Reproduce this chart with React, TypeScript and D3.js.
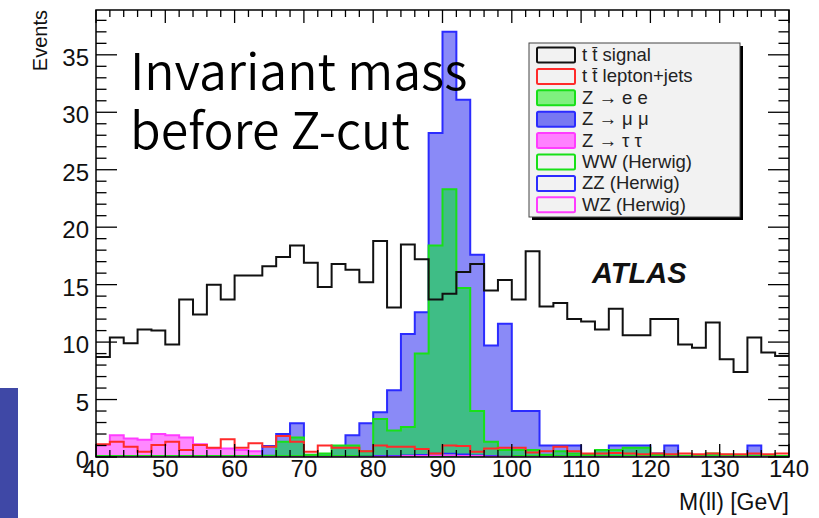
import React from "react";
import * as d3 from "d3";

// 2 GeV bins from 40 to 140 GeV
const binEdges: number[] = d3.range(40, 141, 2);

// t tbar signal (dilepton)
const ttSignal = [
  8.7, 10.4, 9.9, 11.1, 11.0, 9.8, 13.7, 12.4, 15.0, 13.7,
  15.8, 15.8, 16.6, 17.4, 18.4, 16.9, 14.8, 16.8, 16.3, 15.2,
  18.8, 13.0, 18.5, 17.2, 13.7, 14.2, 16.1, 16.8, 14.5, 15.4,
  13.7, 17.9, 13.1, 13.4, 12.0, 11.8, 11.1, 12.9, 10.6, 10.6,
  12.0, 12.0, 9.8, 9.5, 11.7, 8.5, 7.4, 10.4, 9.1, 8.8,
];

// t tbar lepton+jets background
const ttLeptonJets = [
  1.1, 1.33, 0.9, 0.46, 1.04, 1.33, 0.6, 1.04, 0.8, 1.54,
  0.8, 1.2, 0.9, 1.83, 1.33, 0.46, 1.0, 0.8, 0.8, 0.5,
  1.0, 0.9, 0.9, 0.7, 0.3, 1.0, 0.96, 0.46, 0.75, 0.8,
  0.8, 0.4, 0.5, 0.9, 0.5, 0.3, 0.3, 0.35, 0.3, 0.25,
  0.3, 0.25, 0.3, 0.25, 0.3, 0.25, 0.25, 0.3, 0.25, 0.3,
];

// Z -> e e
const zee = [
  0, 0, 0, 0, 0, 0, 0, 0, 0, 0,
  0, 0, 0.1, 1.33, 1.7, 0.2, 0.3, 1.0, 1.0, 0.5,
  3.3, 2.3, 2.6, 9.0, 18.4, 23.3, 14.7, 4.0, 1.33, 0.6,
  0.6, 0.6, 0.2, 0.5, 0.3, 0.2, 0.6, 0.6, 0.8, 0.8,
  0.2, 0.2, 0.1, 0.1, 0.3, 0.2, 0, 0.1, 0.1, 0,
];

// Z -> mu mu
const zmumu = [
  0, 0, 0, 0, 0, 0, 0, 0, 0, 0,
  0, 0, 0.96, 2.0, 2.93, 0, 0, 0, 1.9, 2.93,
  3.9, 5.8, 10.7, 12.6, 28.2, 37.0, 31.1, 17.6, 9.7, 11.6,
  4.0, 4.0, 1.0, 1.0, 1.0, 0, 0.2, 1.0, 1.0, 1.0,
  0.3, 1.0, 0, 0, 0, 0, 0, 1.0, 0, 0,
];

// Z -> tau tau
const ztautau = [
  1.04, 1.9, 1.6, 1.5, 2.0, 1.9, 1.7, 1.1, 0.75, 0.75,
  0.6, 0.5, 0.5, 0.3, 0.3, 0.2, 0.2, 0.2, 0.2, 0.2,
  0.2, 0.2, 0.2, 0.1, 0.1, 0, 0, 0, 0, 0,
  0, 0, 0, 0, 0, 0, 0, 0, 0, 0,
  0, 0, 0, 0, 0, 0, 0, 0, 0, 0,
];

// Diboson samples (Herwig)
const ww = [
  0.1, 0.1, 0.1, 0.1, 0.1, 0.1, 0.1, 0.1, 0.1, 0.1,
  0.1, 0.1, 0.1, 0.1, 0.1, 0.1, 0.1, 0.1, 0.1, 0.1,
  0.1, 0.1, 0.1, 0.1, 0.1, 0.1, 0.1, 0.1, 0.1, 0.1,
  0.1, 0.1, 0.1, 0.1, 0.1, 0.1, 0.1, 0.1, 0.1, 0.1,
  0.1, 0.1, 0.1, 0.1, 0.1, 0.1, 0.1, 0.1, 0.1, 0.1,
];
const zz = [
  0, 0, 0, 0, 0, 0, 0, 0, 0, 0,
  0, 0, 0, 0, 0, 0, 0, 0, 0, 0.05,
  0.1, 0.1, 0.15, 0.2, 0.3, 0.3, 0.25, 0.15, 0.1, 0.05,
  0, 0, 0, 0, 0, 0, 0, 0, 0, 0,
  0, 0, 0, 0, 0, 0, 0, 0, 0, 0,
];
const wz = [
  0, 0, 0, 0, 0, 0, 0, 0, 0, 0,
  0, 0, 0, 0, 0, 0, 0, 0, 0, 0,
  0.05, 0.05, 0.1, 0.1, 0.15, 0.15, 0.1, 0.1, 0.05, 0.05,
  0, 0, 0, 0, 0, 0, 0, 0, 0, 0,
  0, 0, 0, 0, 0, 0, 0, 0, 0, 0,
];

const yTickLabels = [0, 5, 10, 15, 20, 25, 30, 35];
const xTickLabels = [40, 50, 60, 70, 80, 90, 100, 110, 120, 130, 140];

const legendLabels = [
  "t t\u0304 signal",
  "t t\u0304 lepton+jets",
  "Z \u2192 e e",
  "Z \u2192 \u03bc \u03bc",
  "Z \u2192 \u03c4 \u03c4",
  "WW (Herwig)",
  "ZZ (Herwig)",
  "WZ (Herwig)",
];

const W = 819;
const H = 518;
const frame = { left: 96, right: 789, top: 10, bottom: 457 };
const yMax = 38.9;

const COL = {
  black: "#111111",
  red: "#ff2a2a",
  green: "#18e018",
  greenFill: "#3fbd86",
  blue: "#2b2bff",
  blueFill: "#8a8af7",
  magenta: "#ff3cff",
  magentaFill: "#ff88ff",
};

const font = "'Liberation Sans', Arial, Helvetica, sans-serif";
const noteFont = "'Noto Sans CJK JP', 'Noto Sans', sans-serif";

export default function App() {
  const x = d3.scaleLinear().domain([40, 140]).range([frame.left, frame.right]);
  const y = d3.scaleLinear().domain([0, yMax]).range([frame.bottom, frame.top]);

  const steps = (vals: number[]): [number, number][] =>
    vals.flatMap((v, i) => [
      [binEdges[i], v] as [number, number],
      [binEdges[i + 1], v] as [number, number],
    ]);

  const line = d3
    .line<[number, number]>()
    .x((d) => x(d[0]))
    .y((d) => y(d[1]));
  const area = d3
    .area<[number, number]>()
    .x((d) => x(d[0]))
    .y0(y(0))
    .y1((d) => y(d[1]));

  const closedOutline = (vals: number[]) =>
    line([[40, 0], ...steps(vals), [140, 0]]) as string;
  const openOutline = (vals: number[]) => line(steps(vals)) as string;

  const filled = [
    { vals: ztautau, fill: COL.magentaFill, stroke: COL.magenta },
    { vals: zmumu, fill: COL.blueFill, stroke: COL.blue },
    { vals: zee, fill: COL.greenFill, stroke: COL.green },
  ];

  const yMinor = d3.range(0, 39, 1);
  const xMinor = d3.range(40, 141, 2);
  const yMajorLen = 21;
  const yMinorLen = 10.5;
  const xMajorLen = 13;
  const xMinorLen = 7;

  // legend geometry
  const lg = { x: 529, y: 43, w: 211, h: 174 };
  const rowH = 21.4;
  const rowY0 = 55;
  const swatches = [
    { fill: "#f2f2f2", stroke: COL.black },
    { fill: "#f2f2f2", stroke: COL.red },
    { fill: "#7ff07f", stroke: COL.green },
    { fill: "#7878f2", stroke: COL.blue },
    { fill: "#ff80ff", stroke: COL.magenta },
    { fill: "#f2f2f2", stroke: COL.green },
    { fill: "#f2f2f2", stroke: COL.blue },
    { fill: "#f2f2f2", stroke: COL.magenta },
  ];

  return (
    <div style={{ position: "absolute", left: 0, top: 0 }}>
      <svg width={W} height={H} viewBox={`0 0 ${W} ${H}`} style={{ display: "block", background: "#ffffff" }}>
        <defs>
          <clipPath id="frameClip">
            <rect x={frame.left} y={frame.top} width={frame.right - frame.left} height={frame.bottom - frame.top} />
          </clipPath>
        </defs>

        {/* side bar */}
        <rect x={0} y={388} width={18} height={H - 388} fill="#3f48a6" />

        <g clipPath="url(#frameClip)">
          {filled.map((h, i) => (
            <g key={i}>
              <path d={area(steps(h.vals)) as string} fill={h.fill} />
              <path d={closedOutline(h.vals)} fill="none" stroke={h.stroke} strokeWidth={2} />
            </g>
          ))}
          <path d={openOutline(ww)} fill="none" stroke={COL.green} strokeWidth={1.5} />
          <path d={openOutline(zz)} fill="none" stroke={COL.blue} strokeWidth={1.5} />
          <path d={openOutline(wz)} fill="none" stroke={COL.magenta} strokeWidth={1.5} />
          <path d={openOutline(ttLeptonJets)} fill="none" stroke={COL.red} strokeWidth={2} />
          <path d={openOutline(ttSignal)} fill="none" stroke={COL.black} strokeWidth={2} />
        </g>

        {/* frame */}
        <rect
          x={frame.left}
          y={frame.top}
          width={frame.right - frame.left}
          height={frame.bottom - frame.top}
          fill="none"
          stroke="#000"
          strokeWidth={1.5}
        />

        {/* y ticks, left and right */}
        {yMinor.map((v) => {
          const len = v % 5 === 0 ? yMajorLen : yMinorLen;
          return (
            <g key={`yt${v}`} stroke="#000" strokeWidth={1.3}>
              <line x1={frame.left} x2={frame.left + len} y1={y(v)} y2={y(v)} />
              <line x1={frame.right} x2={frame.right - len} y1={y(v)} y2={y(v)} />
            </g>
          );
        })}
        {/* x ticks, bottom and top */}
        {xMinor.map((v) => {
          const len = v % 10 === 0 ? xMajorLen : xMinorLen;
          return (
            <g key={`xt${v}`} stroke="#000" strokeWidth={1.3}>
              <line x1={x(v)} x2={x(v)} y1={frame.bottom} y2={frame.bottom - len} />
              <line x1={x(v)} x2={x(v)} y1={frame.top} y2={frame.top + len} />
            </g>
          );
        })}

        {/* tick labels */}
        {yTickLabels.map((v) => (
          <text key={`yl${v}`} x={frame.left - 7} y={y(v) + 11} textAnchor="end" fontFamily={font} fontSize={24} fill="#111">
            {v}
          </text>
        ))}
        {xTickLabels.map((v) => (
          <text key={`xl${v}`} x={x(v)} y={frame.bottom + 20} textAnchor="middle" fontFamily={font} fontSize={24} fill="#111">
            {v}
          </text>
        ))}

        {/* axis titles */}
        <text transform={`translate(47,10) rotate(-90)`} textAnchor="end" fontFamily={font} fontSize={20} fill="#111">
          Events
        </text>
        <text x={frame.right} y={510} textAnchor="end" fontFamily={font} fontSize={23} fill="#111">
          M(ll) [GeV]
        </text>

        {/* legend */}
        <rect x={lg.x + 3} y={lg.y + 3} width={lg.w} height={lg.h} fill="#000" />
        <rect x={lg.x} y={lg.y} width={lg.w} height={lg.h} fill="#f2f2f2" stroke="#444" strokeWidth={1} />
        {legendLabels.map((lab, i) => {
          const cy = rowY0 + i * rowH;
          const s = swatches[i];
          return (
            <g key={`lg${i}`}>
              <rect x={537} y={cy - 7.5} width={38} height={15} fill={s.fill} stroke={s.stroke} strokeWidth={2} rx={1.5} />
              <text x={582} y={cy + 6} fontFamily={font} fontSize={18.5} fill="#222">
                {lab}
              </text>
            </g>
          );
        })}

        {/* experiment label */}
        <text x={592} y={283} fontFamily={font} fontSize={29} fontWeight="bold" fontStyle="italic" fill="#111">
          ATLAS
        </text>

        {/* annotation */}
        <text x={130} y={90} fontFamily={noteFont} fontWeight={350} fontSize={50} fill="#000">
          Invariant mass
        </text>
        <text x={130} y={149} fontFamily={noteFont} fontWeight={350} fontSize={50} fill="#000">
          before Z-cut
        </text>
      </svg>
    </div>
  );
}
